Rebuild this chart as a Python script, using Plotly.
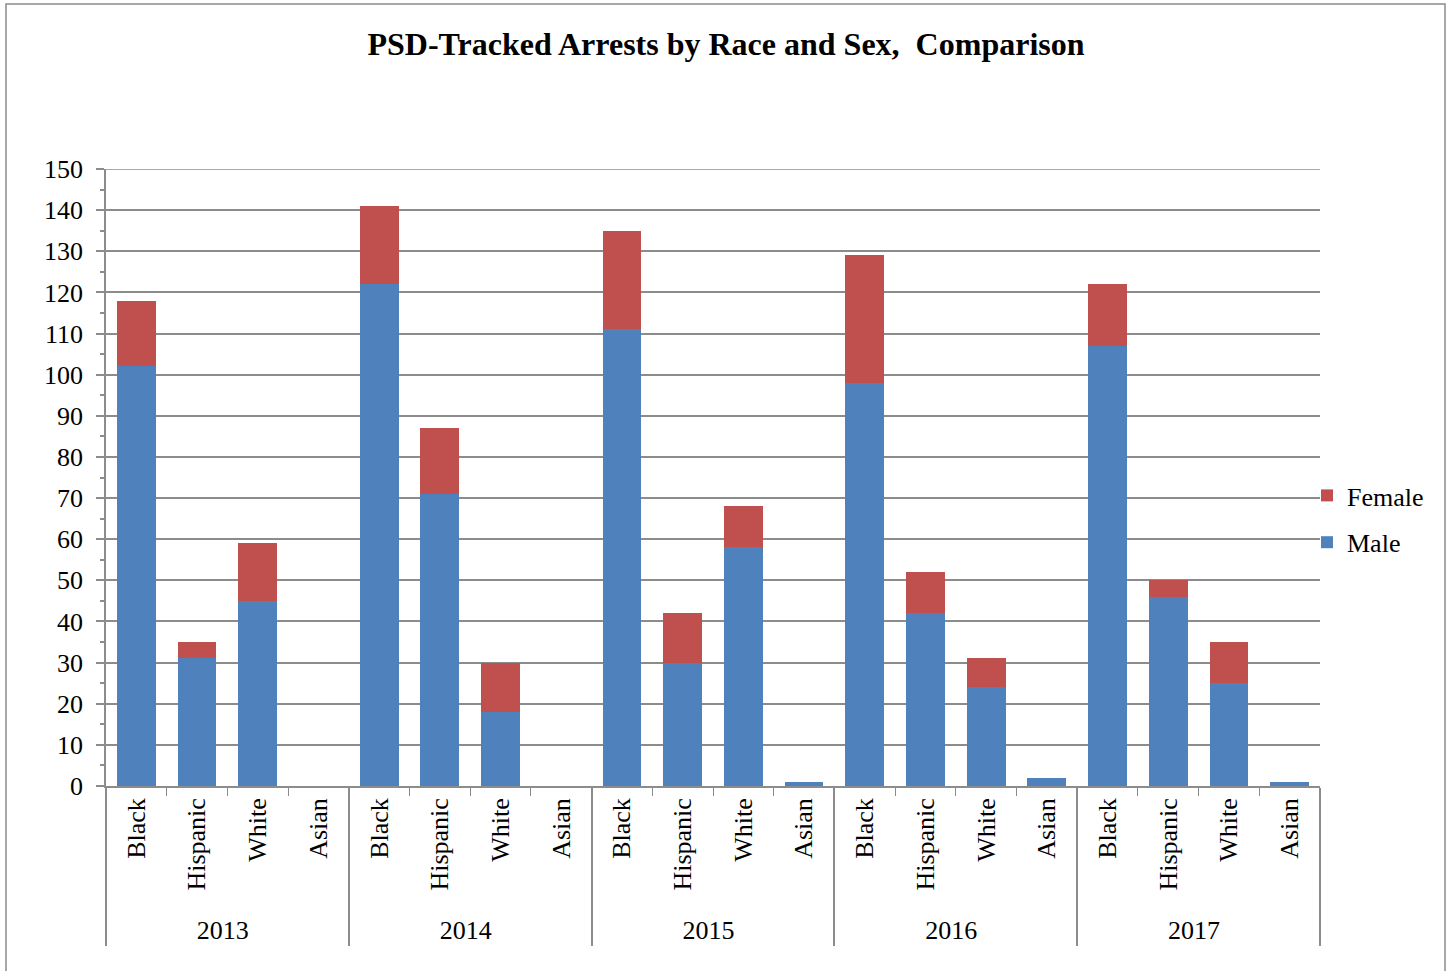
import plotly.graph_objects as go

years = ["2013", "2014", "2015", "2016", "2017"]
races = ["Black", "Hispanic", "White", "Asian"]

male = [102, 31, 45, 0,
        122, 71, 18, 0,
        111, 30, 58, 1,
        98, 42, 24, 2,
        107, 46, 25, 1]
female = [16, 4, 14, 0,
          19, 16, 12, 0,
          24, 12, 10, 0,
          31, 10, 7, 0,
          15, 4, 10, 0]

x_year = [y for y in years for _ in races]
x_race = [r for _ in years for r in races]

FONT = "Liberation Serif"
GRID = "#8c8c8c"

fig = go.Figure()
fig.add_trace(go.Bar(x=[x_year, x_race], y=male, name="Male", marker_color="#4F81BD",
                     marker_line_width=0, legendgroup="m", legendrank=2))
fig.add_trace(go.Bar(x=[x_year, x_race], y=female, name="Female", marker_color="#C0504D",
                     marker_line_width=0, legendgroup="f", legendrank=1))

L, R, T, B = 106, 1320, 169, 786
W, H = 1452, 971

def px2x(p):
    return (p - L) / (R - L)

def px2y(p):
    return (B - p) / (B - T)

fig.update_layout(
    width=W, height=H,
    barmode="stack", bargap=0.36,
    margin=dict(l=L, r=W - R, t=T, b=H - B),
    paper_bgcolor="white", plot_bgcolor="white",
    font=dict(family=FONT, size=26, color="black"),
    title=dict(text="<b>PSD-Tracked Arrests by Race and Sex,  Comparison</b>",
               x=0.5, xanchor="center", y=1 - 44 / H, yanchor="middle",
               font=dict(family=FONT, size=32, color="black")),
    legend=dict(x=px2x(1307), xanchor="left", y=px2y(519), yanchor="middle",
                traceorder="grouped", font=dict(size=26),
                itemwidth=30, bgcolor="rgba(0,0,0,0)", tracegroupgap=10),
    showlegend=True,
)

fig.update_yaxes(range=[0, 150], dtick=10, showgrid=True, gridcolor=GRID, gridwidth=1.5,
                 showline=True, linecolor=GRID, linewidth=1.5,
                 ticks="outside", ticklen=8, tickcolor=GRID, tickwidth=1.5,
                 ticklabelstandoff=8,
                 minor=dict(dtick=5, ticks="outside", ticklen=4, tickcolor=GRID, showgrid=False),
                 zeroline=False, tickfont=dict(size=26, family=FONT))
fig.update_xaxes(type="multicategory", showline=True, linecolor=GRID, linewidth=1.5,
                 ticks="outside", tickson="boundaries", ticklen=8, tickcolor=GRID,
                 showdividers=True, dividercolor=GRID, dividerwidth=1.5,
                 tickangle=-90, tickfont=dict(size=26, family=FONT))

# top gridline at 150
fig.add_shape(type="line", xref="paper", yref="y", x0=0, x1=1, y0=150, y1=150,
              line=dict(color=GRID, width=1.5), layer="below")

fig.add_shape(type="rect", xref="paper", yref="paper",
              x0=px2x(6), x1=px2x(1445), y0=px2y(990), y1=px2y(4),
              line=dict(color=GRID, width=1.5), fillcolor="rgba(0,0,0,0)", layer="below")

fig.write_html("out.html")
